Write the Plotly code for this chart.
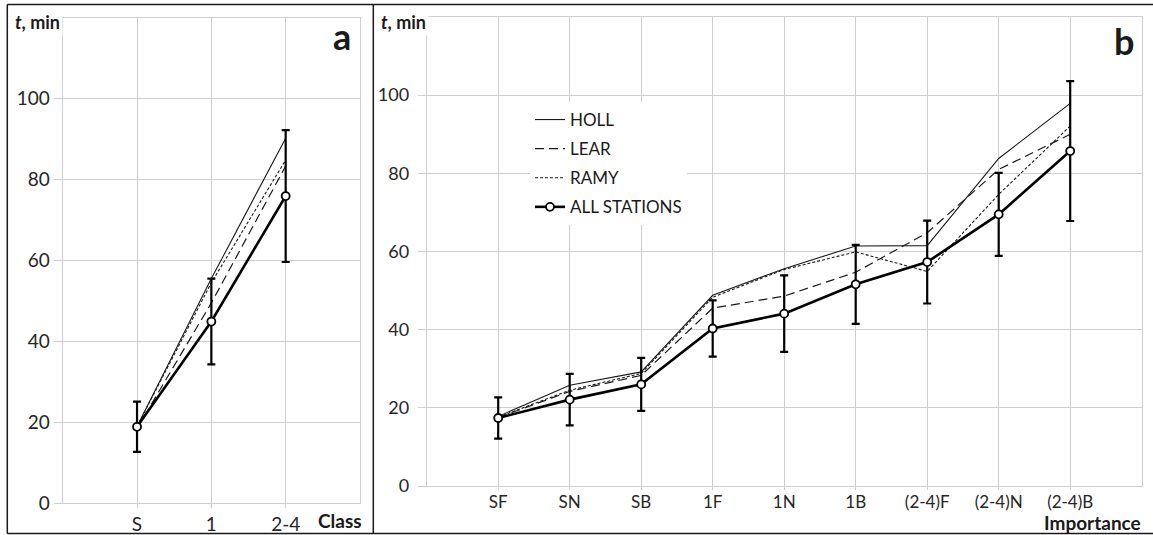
import plotly.graph_objects as go

# ---------------- data ----------------
classes = ["S", "1", "2-4"]
a_holl = [19.0, 55.5, 90.2]
a_lear = [18.5, 49.5, 83.3]
a_ramy = [19.0, 54.5, 84.8]
a_all = [18.9, 44.9, 75.9]
a_err = [6.2, 10.6, 16.3]

importance = ["SF", "SN", "SB", "1F", "1N", "1B", "(2-4)F", "(2-4)N", "(2-4)B"]
b_holl = [17.8, 25.8, 29.2, 48.8, 55.6, 61.4, 61.5, 83.8, 97.9]
b_lear = [17.5, 24.2, 28.3, 45.5, 48.6, 54.7, 64.8, 81.0, 90.0]
b_ramy = [17.6, 24.5, 28.8, 48.3, 55.4, 59.9, 54.9, 74.6, 92.1]
b_all = [17.4, 22.1, 26.0, 40.3, 44.1, 51.6, 57.3, 69.5, 85.7]
b_err = [5.3, 6.6, 6.8, 7.2, 9.8, 10.1, 10.6, 10.6, 17.9]

y_ticks = [0, 20, 40, 60, 80, 100]

# ---------------- styling ----------------
W, H = 1153, 535
FONT = "Lato, 'Open Sans', sans-serif"
LINE = "#1a1a1a"
GRID = "#cfcfcf"

def px(x):
    return x / W

def py(y):
    return 1 - y / H

series_styles = [
    ("HOLL", dict(color=LINE, width=1.1, dash="solid")),
    ("LEAR", dict(color=LINE, width=1.2, dash="9px,5px")),
    ("RAMY", dict(color=LINE, width=1.1, dash="3px,2px")),
]

fig = go.Figure()

# panel a
for (name, style), ys in zip(series_styles, [a_holl, a_lear, a_ramy]):
    fig.add_trace(go.Scatter(x=classes, y=ys, mode="lines", name=name, line=style,
                             showlegend=False, xaxis="x", yaxis="y", hoverinfo="skip"))
fig.add_trace(go.Scatter(
    x=classes, y=a_all, mode="lines+markers", name="ALL STATIONS",
    line=dict(color="black", width=2.6),
    marker=dict(symbol="circle", size=8, color="white", line=dict(color="black", width=1.8)),
    error_y=dict(type="data", array=a_err, visible=True, color="black", thickness=2.2, width=4),
    showlegend=False, xaxis="x", yaxis="y"))

# panel b
for (name, style), ys in zip(series_styles, [b_holl, b_lear, b_ramy]):
    fig.add_trace(go.Scatter(x=importance, y=ys, mode="lines", name=name, line=style,
                             legendgroup=name, showlegend=True, xaxis="x2", yaxis="y2",
                             hoverinfo="skip"))
fig.add_trace(go.Scatter(
    x=importance, y=b_all, mode="lines+markers", name="ALL STATIONS", legendgroup="ALL",
    line=dict(color="black", width=2.6),
    marker=dict(symbol="circle", size=8, color="white", line=dict(color="black", width=1.8)),
    error_y=dict(type="data", array=b_err, visible=True, color="black", thickness=2.2, width=4),
    showlegend=True, xaxis="x2", yaxis="y2"))

axis_common = dict(showgrid=True, gridcolor=GRID, gridwidth=1, zeroline=False,
                   showline=True, linecolor=GRID, linewidth=1, mirror=True,
                   ticks="outside", tickcolor=GRID, tickwidth=1, automargin=False)

fig.update_layout(
    width=W, height=H,
    margin=dict(l=0, r=0, t=0, b=0, autoexpand=False),
    paper_bgcolor="white", plot_bgcolor="white",
    font=dict(family=FONT, color="#262626"),
    xaxis=dict(domain=[px(62.7), px(360)], type="category", range=[-1, 3],
               ticklen=4, tickfont=dict(size=19, color="#262626"), anchor="y", **axis_common),
    yaxis=dict(domain=[py(503.3), py(17.5)], range=[0, 120], tickvals=y_ticks,
               ticklen=8, tickfont=dict(size=19, color="#262626"), anchor="x", **axis_common),
    xaxis2=dict(domain=[px(426.7), px(1141.7)], type="category", range=[-1, 9],
                ticklen=3, ticklabelstandoff=-2,
                tickfont=dict(size=17, color="#262626"), anchor="y2", **axis_common),
    yaxis2=dict(domain=[py(486), py(17)], range=[0, 120], tickvals=y_ticks,
                ticklen=8, ticklabelstandoff=5,
                tickfont=dict(size=18, color="#262626"), anchor="x2", **axis_common),
    legend=dict(x=px(530), y=py(102), xanchor="left", yanchor="top",
                bgcolor="white", borderwidth=0,
                font=dict(family=FONT, size=17, color="#1a1a1a"),
                itemwidth=30, tracegroupgap=4, traceorder="grouped"),
    showlegend=True,
)

ann = []
ann.append(dict(text="<b><i>t</i>, min</b>", x=px(12), y=py(22.5), xref="paper", yref="paper",
                xanchor="left", yanchor="middle", showarrow=False,
                font=dict(size=18, color="#1a1a1a"), bgcolor="white", borderpad=2))
ann.append(dict(text="<b><i>t</i>, min</b>", x=px(378), y=py(22.5), xref="paper", yref="paper",
                xanchor="left", yanchor="middle", showarrow=False,
                font=dict(size=18, color="#1a1a1a"), bgcolor="white", borderpad=2))
ann.append(dict(text="<b>a</b>", x=px(342), y=py(36), xref="paper", yref="paper",
                xanchor="center", yanchor="middle", showarrow=False,
                font=dict(size=36, color="#1a1a1a")))
ann.append(dict(text="<b>b</b>", x=px(1124), y=py(41), xref="paper", yref="paper",
                xanchor="center", yanchor="middle", showarrow=False,
                font=dict(size=36, color="#1a1a1a")))
ann.append(dict(text="<b>Class</b>", x=px(364), y=py(520), xref="paper", yref="paper",
                xanchor="right", yanchor="middle", showarrow=False,
                font=dict(size=19, color="#1a1a1a")))
ann.append(dict(text="<b>Importance</b>", x=px(1143), y=py(522), xref="paper", yref="paper",
                xanchor="right", yanchor="middle", showarrow=False,
                font=dict(size=19, color="#1a1a1a")))
fig.update_layout(annotations=ann)

# panel frames
frame = dict(type="line", xref="paper", yref="paper", line=dict(color="#1a1a1a", width=1.5))
fig.update_layout(shapes=[
    dict(frame, x0=px(7.3), x1=1, y0=py(4.5), y1=py(4.5)),
    dict(frame, x0=px(7.3), x1=1, y0=py(533.5), y1=py(533.5)),
    dict(frame, x0=px(7.3), x1=px(7.3), y0=py(4.5), y1=py(533.5)),
    dict(frame, x0=px(373.3), x1=px(373.3), y0=py(4.5), y1=py(533.5)),
])

fig.write_html("out.html")
